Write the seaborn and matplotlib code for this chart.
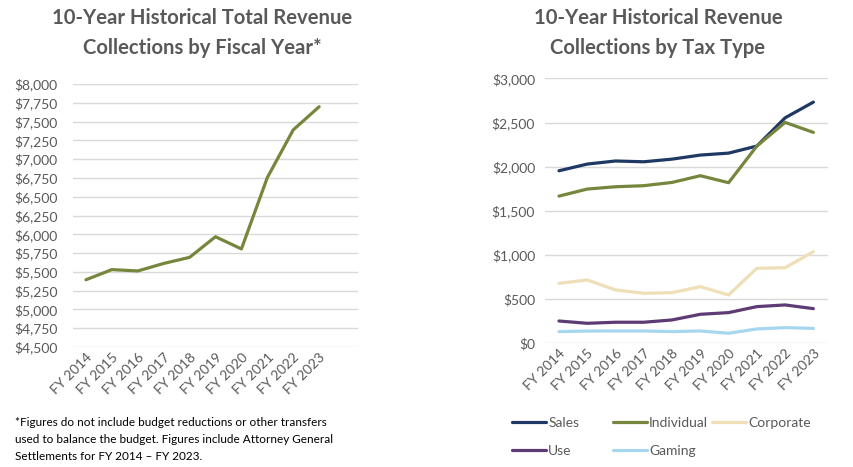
import matplotlib.pyplot as plt
import pandas as pd
import seaborn as sns
from matplotlib.lines import Line2D
from matplotlib.ticker import FuncFormatter

years = ["FY 2014", "FY 2015", "FY 2016", "FY 2017", "FY 2018",
         "FY 2019", "FY 2020", "FY 2021", "FY 2022", "FY 2023"]

# total collections, $ millions
total = [5395, 5530, 5512, 5612, 5693, 5968, 5805, 6755, 7390, 7698]

# collections by tax type, $ millions
sales = [1954, 2030, 2065, 2056, 2086, 2132, 2154, 2234, 2554, 2732]
individual = [1667, 1747, 1773, 1785, 1822, 1898, 1819, 2234, 2502, 2389]
corporate = [679, 717, 604, 566, 573, 641, 547, 849, 856, 1037]
use = [252, 226, 238, 238, 264, 328, 347, 415, 434, 392]
gaming = [132, 138, 139, 139, 132, 139, 113, 162, 177, 168]

tax_types = ["Sales", "Individual", "Corporate", "Use", "Gaming"]
colours = {"Sales": "#1F3864", "Individual": "#76873D", "Corporate": "#EEDFB7",
           "Use": "#5E3B74", "Gaming": "#A7D7EE"}

footnote = ["*Figures do not include budget reductions or other transfers",
            "used to balance the budget. Figures include Attorney General",
            "Settlements for FY 2014 \u2013 FY 2023."]

TEXT = "#595959"
GRID = "#D9D9D9"
W, H = 854, 467

sns.set_theme(style="white")
plt.rcParams["font.family"] = ["Lato", "DejaVu Sans"]

fig = plt.figure(figsize=(W / 100, H / 100), dpi=100)
ax1 = fig.add_axes([0.0855, 0.257, 0.3337, 0.563])
ax2 = fig.add_axes([0.638, 0.265, 0.331, 0.567])

dollar = FuncFormatter(lambda v, p: f"${v:,.0f}")


def style_axis(ax, pad):
    for s in ax.spines.values():
        s.set_visible(False)
    ax.grid(axis="y", color=GRID, linewidth=1)
    ax.set_axisbelow(True)
    ax.tick_params(axis="both", length=0, colors=TEXT, labelsize=10)
    ax.tick_params(axis="y", pad=pad)
    ax.tick_params(axis="x", pad=3)
    ax.yaxis.set_major_formatter(dollar)
    ax.set_xlabel("")
    ax.set_ylabel("")
    for lab in ax.get_xticklabels():
        lab.set_rotation(45)
        lab.set_ha("right")
        lab.set_rotation_mode("anchor")


# left: total
df_total = pd.DataFrame({"year": years, "total": total})
sns.lineplot(data=df_total, x="year", y="total", color=colours["Individual"],
             linewidth=2.3, ax=ax1, sort=False)
ax1.set_xlim(-0.5, 10.5)
ax1.set_ylim(4500, 8000)
ax1.set_yticks(range(4500, 8001, 250))
style_axis(ax1, 11)

# right: by tax type
series = {"Sales": sales, "Individual": individual, "Corporate": corporate,
          "Use": use, "Gaming": gaming}
df_type = pd.DataFrame([
    {"year": y, "type": t, "value": v}
    for t in tax_types for y, v in zip(years, series[t])
])
sns.lineplot(data=df_type, x="year", y="value", hue="type", hue_order=tax_types,
             palette=colours, linewidth=2.3, ax=ax2, sort=False, legend=False)
ax2.set_xlim(-0.5, 9.5)
ax2.set_ylim(0, 3000)
ax2.set_yticks(range(0, 3001, 500))
style_axis(ax2, 7)

# legend: fixed-width slots like the spreadsheet legend
slots_x = [512, 613, 712]
slots_y = [423, 451]
for i, t in enumerate(tax_types):
    px, py = slots_x[i % 3], slots_y[i // 3]
    h = Line2D([0], [0], color=colours[t], linewidth=2.3)
    leg = fig.legend([h], [t], loc="center left",
                     bbox_to_anchor=(px / W, 1 - py / H), frameon=False,
                     fontsize=10, labelcolor=TEXT, handlelength=2.45,
                     handletextpad=0.15, borderpad=0, borderaxespad=0)

# titles
for cx, lines in [(202, ["10-Year Historical Total Revenue", "Collections by Fiscal Year*"]),
                  (658, ["10-Year Historical Revenue", "Collections by Tax Type"])]:
    for ly, line in zip([18, 48], lines):
        fig.text(cx / W, 1 - ly / H, line, ha="center", va="center",
                 fontsize=14.6, fontweight="bold", color=TEXT)

# footnote
for ly, line in zip([422, 439.5, 457], footnote):
    fig.text(15 / W, 1 - ly / H, line, ha="left", va="center",
             fontsize=8.5, color="#000000")

fig.savefig("out.png", dpi=100)
